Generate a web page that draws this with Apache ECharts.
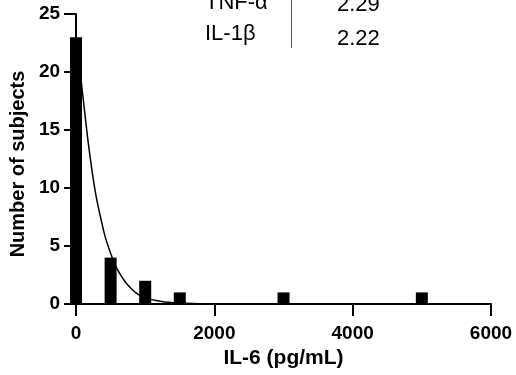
<!DOCTYPE html>
<html>
<head>
<meta charset="utf-8">
<script src="https://cdn.jsdelivr.net/npm/echarts@6/dist/echarts.min.js"></script>
<style>
  html, body { margin: 0; padding: 0; background: #fff; }
  #chart { width: 516px; height: 375px; }
</style>
</head>
<body>
<div id="chart"></div>
<script>
// histogram bins (pg/mL) and counts
const binCenters = [0, 500, 1000, 1500, 3000, 5000];
const counts = [23, 4, 2, 1, 1, 1];

// fitted decay curve (first point sits behind the first bar)
const fitX = [40, 94, 166, 238, 296, 354, 426, 523, 595, 739, 931, 1172, 1408, 1800, 2500, 6000];
const fitY = [21.0, 18.2, 14.4, 11.2, 9.1, 7.5, 5.7, 4.0, 3.0, 1.7, 0.7, 0.28, 0.11, 0.03, 0, 0];

// inset table
const tableNames = ["TNF-α", "IL-1β"];
const tableValues = ["2.29", "2.22"];

const xTicks = [0, 2000, 4000, 6000];
const yTicks = [0, 5, 10, 15, 20, 25];

const font = "Liberation Sans, Arial, sans-serif";

const chart = echarts.init(document.getElementById("chart"));

const option = {
  animation: false,
  grid: { left: 75.5, right: 25, top: 14, bottom: 71 },
  xAxis: {
    type: "value",
    min: xTicks[0],
    max: xTicks[xTicks.length - 1],
    interval: 2000,
    name: "IL-6 (pg/mL)",
    nameLocation: "middle",
    nameGap: 38,
    nameTextStyle: { color: "#000", fontWeight: "bold", fontSize: 21, fontFamily: font },
    axisLine: { lineStyle: { color: "#000", width: 2 } },
    axisTick: { show: true, length: 12, lineStyle: { color: "#000", width: 2 } },
    axisLabel: {
      color: "#000", fontWeight: "bold", fontSize: 19, fontFamily: font, margin: 20,
      formatter: (v) => String(v)
    },
    splitLine: { show: false }
  },
  yAxis: {
    type: "value",
    min: yTicks[0],
    max: yTicks[yTicks.length - 1],
    interval: 5,
    name: "Number of subjects",
    nameLocation: "middle",
    nameGap: 46,
    nameTextStyle: { color: "#000", fontWeight: "bold", fontSize: 20, fontFamily: font, padding: [0, 10, 0, 0] },
    axisLine: { show: true, lineStyle: { color: "#000", width: 2 } },
    axisTick: { show: true, length: 12, lineStyle: { color: "#000", width: 2 } },
    axisLabel: { color: "#000", fontWeight: "bold", fontSize: 19, fontFamily: font, margin: 16 },
    splitLine: { show: false }
  },
  series: [
    {
      type: "line",
      z: 1,
      smooth: 0.3,
      showSymbol: false,
      data: fitX.map((x, i) => [x, fitY[i]]),
      lineStyle: { color: "#000", width: 1.5 }
    },
    {
      type: "bar",
      z: 3,
      barWidth: 12,
      data: binCenters.map((x, i) => [x, counts[i]]),
      itemStyle: { color: "#000" }
    }
  ],
  graphic: [
    { type: "text", left: 205, top: -8, style: { text: tableNames[0], font: "22px " + font, fill: "#000" } },
    { type: "text", left: 205, top: 23, style: { text: tableNames[1], font: "22px " + font, fill: "#000" } },
    { type: "text", left: 337, top: -6, style: { text: tableValues[0], font: "22px " + font, fill: "#000" } },
    { type: "text", left: 337, top: 28, style: { text: tableValues[1], font: "22px " + font, fill: "#000" } },
    { type: "line", shape: { x1: 291.5, y1: 0, x2: 291.5, y2: 48 }, style: { stroke: "#555", lineWidth: 1 } }
  ]
};

chart.setOption(option);
</script>
</body>
</html>
